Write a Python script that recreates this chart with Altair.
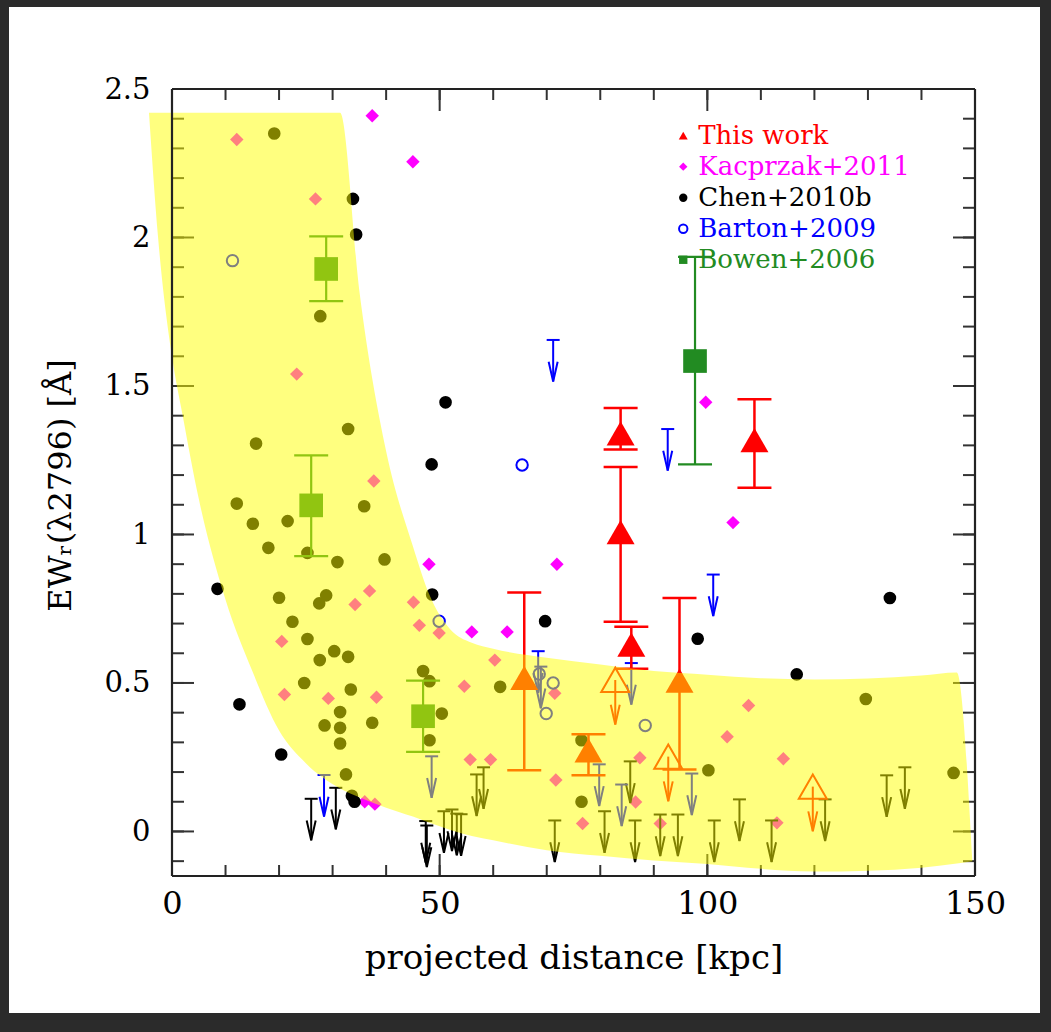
import altair as alt
import pandas as pd

# ------------------------------------------------------------------ data
# This work: detections (triangles) with asymmetric error bars
tw_x = [83.8, 83.8, 85.8, 108.8, 65.8, 77.8, 94.8]
tw_y = [1.34, 1.008, 0.629, 1.318, 0.517, 0.273, 0.508]
tw_lo = [1.286, 0.706, 0.548, 1.157, 0.206, 0.189, 0.209]
tw_hi = [1.426, 1.227, 0.689, 1.455, 0.805, 0.327, 0.786]
# This work: upper limits (open triangles)
twu_x = [82.8, 92.7, 119.7]
twu_y = [0.51, 0.252, 0.151]

# Kacprzak+2011 (diamonds)
ka_x = [37.4, 45.0, 48.0, 71.9, 99.7, 104.8, 56.0, 62.6, 36.0, 37.9,
        12.1, 26.8, 23.3, 37.7, 36.9, 34.2, 45.1, 46.2, 49.9, 20.5, 21.0, 29.2,
        38.2, 60.3, 54.6, 71.5, 55.7, 59.5, 71.7, 87.4, 86.6, 76.7, 91.2, 103.7,
        107.7, 114.2, 113.0]
ka_y = [2.41, 2.255, 0.90, 0.90, 1.445, 1.04, 0.672, 0.672, 0.10, 0.092,
        2.33, 2.13, 1.54, 1.18, 0.81, 0.764, 0.772, 0.694, 0.668, 0.64, 0.461, 0.448,
        0.452, 0.577, 0.489, 0.465, 0.242, 0.242, 0.173, 0.248, 0.099, 0.027, 0.027, 0.319,
        0.424, 0.245, 0.029]

# Chen+2010b detections (filled circles)
ch_x = [33.8, 34.4, 51.1, 48.5, 8.5, 48.6, 69.7, 98.2, 12.6, 20.4, 33.6, 34.1, 116.7, 134.1,
        19.1, 27.7, 32.9, 15.7, 12.1, 35.9, 15.1, 21.6, 18.0, 25.3, 30.9, 39.7, 20.0, 28.8,
        27.5, 22.5, 25.3, 30.3, 32.9, 27.6, 24.7, 33.4, 31.4, 28.5, 31.4, 37.4, 31.4, 32.5,
        46.9, 48.1, 50.4, 48.1, 61.3, 76.5, 76.5, 100.2, 129.6, 146.0]
ch_y = [2.13, 2.01, 1.445, 1.236, 0.817, 0.798, 0.708, 0.649, 0.428, 0.259, 0.12, 0.10, 0.529, 0.786,
        2.35, 1.735, 1.355, 1.306, 1.104, 1.095, 1.036, 1.045, 0.955, 0.938, 0.907, 0.916, 0.787, 0.795,
        0.768, 0.706, 0.648, 0.607, 0.588, 0.577, 0.50, 0.478, 0.402, 0.357, 0.349, 0.366, 0.296, 0.192,
        0.54, 0.506, 0.397, 0.307, 0.487, 0.307, 0.10, 0.206, 0.446, 0.197]
# Chen+2010b upper limits
chu_x = [26.0, 30.6, 47.6, 47.4, 50.8, 52.3, 53.2, 54.0, 58.2, 56.9, 71.5, 80.8, 85.6, 86.5,
         91.2, 94.5, 101.3, 106.0, 112.0, 122.0, 133.5, 136.9]
chu_y = [0.11, 0.147, 0.02, 0.035, 0.068, 0.074, 0.06, 0.058, 0.216, 0.192, 0.037, 0.068, 0.236, 0.037,
         0.057, 0.057, 0.037, 0.108, 0.037, 0.108, 0.189, 0.216]

# Barton+2009 detections (open circles)
ba_x = [65.4, 49.9, 11.3, 71.2, 69.9, 88.4, 68.6]
ba_y = [1.234, 0.708, 1.922, 0.50, 0.397, 0.357, 0.53]
# Barton+2009 upper limits
bau_x = [71.2, 92.6, 101.1, 28.4, 68.4, 68.9, 85.8, 48.5, 79.8, 84.0, 97.1]
bau_y = [1.655, 1.355, 0.865, 0.19, 0.607, 0.555, 0.567, 0.253, 0.226, 0.158, 0.195]

# Bowen+2006 (squares with error bars)
bo_x = [28.8, 26.0, 46.9, 97.7]
bo_y = [1.894, 1.098, 0.388, 1.584]
bo_lo = [1.786, 0.927, 0.268, 1.236]
bo_hi = [2.004, 1.266, 0.508, 1.935]

# shaded band (upper and lower edge)
band_x = [-4.3, -2.6, 0.0, 2.0, 5.0, 10.0, 15.0, 20.0, 25.0, 31.4, 35.0, 40.0, 45.0, 48.0,
          52.0, 56.0, 60.0, 70.0, 80.0, 90.0, 100.0, 110.0, 120.0, 130.0, 140.0, 146.6, 149.5]
band_top = [2.42, 2.42, 2.42, 2.42, 2.42, 2.42, 2.42, 2.42, 2.42, 2.42, 1.82, 1.28, 0.96, 0.80,
            0.68, 0.635, 0.615, 0.585, 0.562, 0.54, 0.528, 0.516, 0.512, 0.515, 0.525, 0.535, -0.10]
band_bot = [2.42, 2.0, 1.60, 1.40, 1.12, 0.78, 0.54, 0.34, 0.23, 0.145, 0.115, 0.08, 0.05, 0.03,
            0.005, -0.015, -0.03, -0.063, -0.082, -0.098, -0.11, -0.126, -0.135, -0.132, -0.122, -0.108, -0.10]

legend_labels = ["This work", "Kacprzak+2011", "Chen+2010b", "Barton+2009", "Bowen+2006"]
legend_colors = ["#ff0000", "#ff00ff", "#000000", "#0000ff", "#228b22"]
legend_shapes = ["triangle-up", "diamond", "circle", "circle", "square"]
legend_filled = [True, True, True, False, True]

x_major = [0, 50, 100, 150]
x_minor = list(range(0, 151, 10))
y_major = [0, 0.5, 1, 1.5, 2, 2.5]
y_minor = [round(-0.1 + 0.1 * i, 1) for i in range(27)]

# ------------------------------------------------------------------ style
W, H = 803, 787
X_DOM = [0, 150]
Y_DOM = [-0.15, 2.5]
ARROW_LEN = 0.14
FONT = "DejaVu Serif"
CAP = "M-1,0L1,0"
HEAD = "M-1,-4.4L0,0L1,-4.4"
TICK = "#333333"

xs = alt.Scale(domain=X_DOM, nice=False, zero=False)
ys = alt.Scale(domain=Y_DOM, nice=False, zero=False)

x_axis = alt.Axis(values=x_major, format="d", ticks=False, domain=False, grid=False,
                  labelFont=FONT, labelFontSize=32, labelColor="#000000", labelPadding=12,
                  labelFlush=False, title="projected distance [kpc]", titleFont=FONT,
                  titleFontSize=34, titleFontWeight="normal", titleColor="#000000",
                  titleY=82, titleBaseline="middle", zindex=1)
y_axis = alt.Axis(values=y_major, format="~g", ticks=False, domain=False, grid=False,
                  labelFont=FONT, labelFontSize=29, labelColor="#000000", labelPadding=22,
                  labelFlush=False, title="EWᵣ(λ2796) [Å]", titleFont=FONT, titleFontSize=32,
                  titleFontWeight="normal", titleColor="#000000", titleX=-112, titleY=396,
                  titleAlign="center", titleBaseline="middle", titleAngle=270, zindex=1)


def X(f="x"):
    return alt.X(f, type="quantitative", scale=xs, axis=x_axis)


def Y(f="y"):
    return alt.Y(f, type="quantitative", scale=ys, axis=y_axis)


def points(df, shape, color, size, filled=True, sw=2):
    return alt.Chart(df).mark_point(shape=shape, color=color, size=size, filled=filled,
                                    opacity=1, strokeWidth=sw).encode(x=X(), y=Y())


def errbars(df, color, sw=2.5, capw=34):
    line = alt.Chart(df).mark_rule(color=color, strokeWidth=sw).encode(
        x=X(), y=Y("lo"), y2=alt.Y2("hi"))
    c1 = alt.Chart(df).mark_point(shape=CAP, size=capw * capw, filled=False, color=color,
                                  strokeWidth=sw, opacity=1).encode(x=X(), y=Y("lo"))
    c2 = alt.Chart(df).mark_point(shape=CAP, size=capw * capw, filled=False, color=color,
                                  strokeWidth=sw, opacity=1).encode(x=X(), y=Y("hi"))
    return [line, c1, c2]


def arrows(df, color, cap=True, length=ARROW_LEN, sw=2):
    base = alt.Chart(df).transform_calculate(tip=f"datum.y - {length}")
    out = [
        base.mark_rule(color=color, strokeWidth=sw).encode(x=X(), y=Y("y"), y2=alt.Y2("tip")),
        base.mark_point(shape=HEAD, size=81, filled=False, color=color, strokeWidth=sw,
                        opacity=1).encode(x=X(), y=Y("tip")),
    ]
    if cap:
        out.append(base.mark_point(shape=CAP, size=169, filled=False, color=color,
                                   strokeWidth=sw, opacity=1).encode(x=X(), y=Y("y")))
    return out


one = pd.DataFrame({"k": [0]})
panel = alt.Chart(one).mark_rect(color="white", clip=False).encode(
    x=alt.value(-163), x2=alt.value(868), y=alt.value(-82), y2=alt.value(924))

layers = [panel]

# inward ticks on all four sides
for vals, ln in [(x_minor, 11), (x_major, 22)]:
    d = pd.DataFrame({"v": vals})
    layers.append(alt.Chart(d).mark_rule(color=TICK, strokeWidth=2).encode(
        x=X("v"), y=alt.value(H), y2=alt.value(H - ln)))
    layers.append(alt.Chart(d).mark_rule(color=TICK, strokeWidth=2).encode(
        x=X("v"), y=alt.value(0), y2=alt.value(ln)))
for vals, ln in [(y_minor, 12), (y_major, 22)]:
    d = pd.DataFrame({"v": vals})
    layers.append(alt.Chart(d).mark_rule(color=TICK, strokeWidth=2).encode(
        y=Y("v"), x=alt.value(0), x2=alt.value(ln)))
    layers.append(alt.Chart(d).mark_rule(color=TICK, strokeWidth=2).encode(
        y=Y("v"), x=alt.value(W), x2=alt.value(W - ln)))

df_ka = pd.DataFrame({"x": ka_x, "y": ka_y})
df_ch = pd.DataFrame({"x": ch_x, "y": ch_y})
df_chu = pd.DataFrame({"x": chu_x, "y": chu_y})
df_ba = pd.DataFrame({"x": ba_x, "y": ba_y})
df_bau = pd.DataFrame({"x": bau_x, "y": bau_y})
df_bo = pd.DataFrame({"x": bo_x, "y": bo_y, "lo": bo_lo, "hi": bo_hi})
df_tw = pd.DataFrame({"x": tw_x, "y": tw_y, "lo": tw_lo, "hi": tw_hi})
df_twu = pd.DataFrame({"x": twu_x, "y": twu_y})

layers.append(points(df_ka, "diamond", "#ff00ff", 180))
layers.append(points(df_ch, "circle", "#000000", 160))
layers += arrows(df_chu, "#000000")
layers.append(points(df_ba, "circle", "#0000ff", 130, filled=False, sw=2))
layers += arrows(df_bau, "#0000ff")
layers += errbars(df_bo, "#228b22", sw=2.2)
layers.append(points(df_bo, "square", "#228b22", 560))
layers += errbars(df_tw, "#ff0000", sw=2.5)
layers.append(points(df_tw, "triangle-up", "#ff0000", 784))
layers += arrows(df_twu, "#ff0000", cap=False, length=0.15)
layers.append(points(df_twu, "triangle-up", "#ff0000", 784, filled=False, sw=2))

# translucent yellow band on top of the data
df_band = pd.DataFrame({"x": band_x, "top": band_top, "bot": band_bot})
layers.append(alt.Chart(df_band).mark_area(color="#ffff00", opacity=0.5, clip=False,
                                           interpolate="monotone").encode(
    x=X(), y=Y("top"), y2=alt.Y2("bot")))

# frame
layers.append(alt.Chart(pd.DataFrame({"v": X_DOM})).mark_rule(color="#222222", strokeWidth=2.2).encode(
    x=X("v"), y=alt.value(0), y2=alt.value(H)))
layers.append(alt.Chart(pd.DataFrame({"v": Y_DOM})).mark_rule(color="#222222", strokeWidth=2.2).encode(
    y=Y("v"), x=alt.value(0), x2=alt.value(W)))

# legend
leg_y = [2.343 - 0.1045 * i for i in range(len(legend_labels))]
df_leg = pd.DataFrame({"label": legend_labels, "x": [95.5] * 5, "tx": [98.3] * 5, "y": leg_y})
for i, lab in enumerate(legend_labels):
    d = df_leg.iloc[[i]]
    sz = 70 if legend_shapes[i] != "triangle-up" else 80
    layers.append(points(d, legend_shapes[i], legend_colors[i], sz, filled=legend_filled[i], sw=2))
layers.append(alt.Chart(df_leg).mark_text(align="left", baseline="middle", font=FONT, fontSize=26).encode(
    x=X("tx"), y=Y("y"), text="label:N",
    color=alt.Color("label:N", scale=alt.Scale(domain=legend_labels, range=legend_colors), legend=None)))

chart = alt.layer(*layers).properties(
    width=W, height=H,
    autosize=alt.AutoSizeParams(type="none"),
    padding={"left": 172, "top": 89, "right": 76, "bottom": 156},
).configure(background="#2b2b2b").configure_view(strokeWidth=0)

chart.save("out.html", embed_options={"renderer": "svg", "actions": False})
